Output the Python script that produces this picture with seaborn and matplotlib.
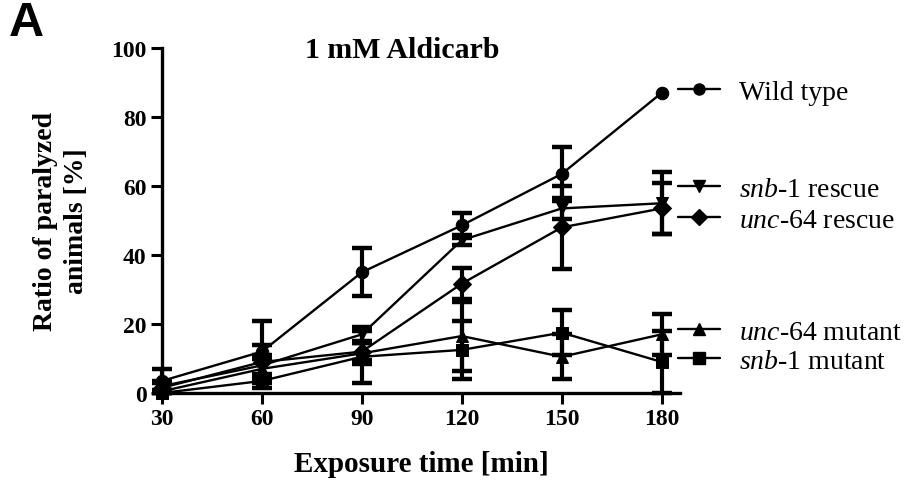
import matplotlib
matplotlib.use("Agg")
import matplotlib.pyplot as plt
from matplotlib.lines import Line2D
import seaborn as sns
import pandas as pd
import numpy as np

# ---- data ----
time = [30, 60, 90, 120, 150, 180]
series_names = ["Wild type", "snb-1 rescue", "unc-64 rescue", "unc-64 mutant", "snb-1 mutant"]
wt = [3.5, 12, 35, 48.6, 63.5, 87]
wt_err = [3.5, 9, 7, 3.6, 7.8, 0]
snb1_rescue = [2, 8, 17, 44.3, 53.5, 55]
snb1_rescue_err = [1.5, 3, 2, 1.5, 3, 9]
unc64_rescue = [1.5, 9, 12, 31.7, 48, 53.5]
unc64_rescue_err = [1.5, 5, 2.5, 4.5, 12, 7.5]
unc64_mutant = [0.5, 7, 11.5, 16.5, 10.5, 17]
unc64_mutant_err = [0.5, 3, 3, 10, 6.5, 6]
snb1_mutant = [0, 3.5, 10.5, 12.5, 17.5, 9]
snb1_mutant_err = [0, 2, 7.5, 8.5, 6.5, 9]

legend_labels = ["Wild type",
                 r"$\mathit{snb}$-$\mathit{1}$ rescue",
                 r"$\mathit{unc}$-$\mathit{64}$ rescue",
                 r"$\mathit{unc}$-$\mathit{64}$ mutant",
                 r"$\mathit{snb}$-$\mathit{1}$ mutant"]
markers = {"Wild type": "o", "snb-1 rescue": "v", "unc-64 rescue": "D",
           "unc-64 mutant": "^", "snb-1 mutant": "s"}
xticks = [30, 60, 90, 120, 150, 180]
yticks = [0, 20, 40, 60, 80, 100]

values = [wt, snb1_rescue, unc64_rescue, unc64_mutant, snb1_mutant]
errors = [wt_err, snb1_rescue_err, unc64_rescue_err, unc64_mutant_err, snb1_mutant_err]

rows = []
for name, vals, errs in zip(series_names, values, errors):
    for t, v, e in zip(time, vals, errs):
        rows.append({"time": t, "value": v, "err": e, "series": name})
df = pd.DataFrame(rows)

# ---- style ----
sns.set_theme(style="ticks")
plt.rcParams["font.family"] = ["Liberation Serif", "DejaVu Serif"]
plt.rcParams["mathtext.fontset"] = "custom"
plt.rcParams["mathtext.rm"] = "Liberation Serif"
plt.rcParams["mathtext.it"] = "Liberation Serif:italic"
for k in ["text.color", "axes.labelcolor", "xtick.color", "ytick.color", "axes.edgecolor"]:
    plt.rcParams[k] = "black"

fig = plt.figure(figsize=(9.24, 4.81), dpi=100)
ax = fig.add_axes([162 / 924, 1 - 394 / 481, 518 / 924, 345 / 481])

sns.lineplot(data=df, x="time", y="value", style="series", style_order=series_names,
             markers=markers, dashes=False, color="black", linewidth=1.7,
             markersize=9, markeredgecolor="black", legend=False, ax=ax,
             clip_on=False, zorder=3)

for name in series_names:
    sub = df[(df.series == name) & (df.err > 0)]
    ax.errorbar(sub.time, sub.value, yerr=sub.err, fmt="none", ecolor="black",
                elinewidth=3, capsize=7, capthick=3.2, clip_on=False, zorder=2)

for line in ax.lines:
    line.set_clip_on(False)

ax.set_xlim(30, 185.5)
ax.set_ylim(0, 100)
ax.set_xticks(xticks)
ax.set_yticks(yticks)
sns.despine(ax=ax)
for s in ["left", "bottom"]:
    ax.spines[s].set_linewidth(2.4)
    ax.spines[s].set_color("black")
ax.tick_params(axis="both", length=8, width=2.2, colors="black", labelsize=17, pad=3)
for lab in ax.get_xticklabels() + ax.get_yticklabels():
    lab.set_fontweight("bold")

ax.set_xlabel("Exposure time [min]", fontsize=21, fontweight="bold", labelpad=15)
ax.set_ylabel("Ratio of paralyzed\nanimals [%]", fontsize=20, fontweight="bold",
              labelpad=16, linespacing=1.3)
fig.text(402 / 924, 1 - 50 / 481, "1 mM Aldicarb", fontsize=21.5, fontweight="bold",
         ha="center", va="center")
fig.text(9 / 924, 1 - 23 / 481, "A", fontsize=35, fontweight="bold",
         family="Liberation Sans", ha="left", va="center")

# legend entries, each aligned next to its curve end like the reference
leg_y = [93, 190, 221, 333, 362]
for name, lab, y in zip(series_names, legend_labels, leg_y):
    h = Line2D([], [], color="black", marker=markers[name], markersize=8, linewidth=1.7)
    fig.legend([h], [lab], loc="center left", bbox_to_anchor=(678 / 924, 1 - y / 481),
               frameon=False, borderpad=0, borderaxespad=0, handlelength=1.5,
               handletextpad=0.7, prop={"family": "Liberation Serif", "size": 20})

fig.savefig("out.png", dpi=100)
